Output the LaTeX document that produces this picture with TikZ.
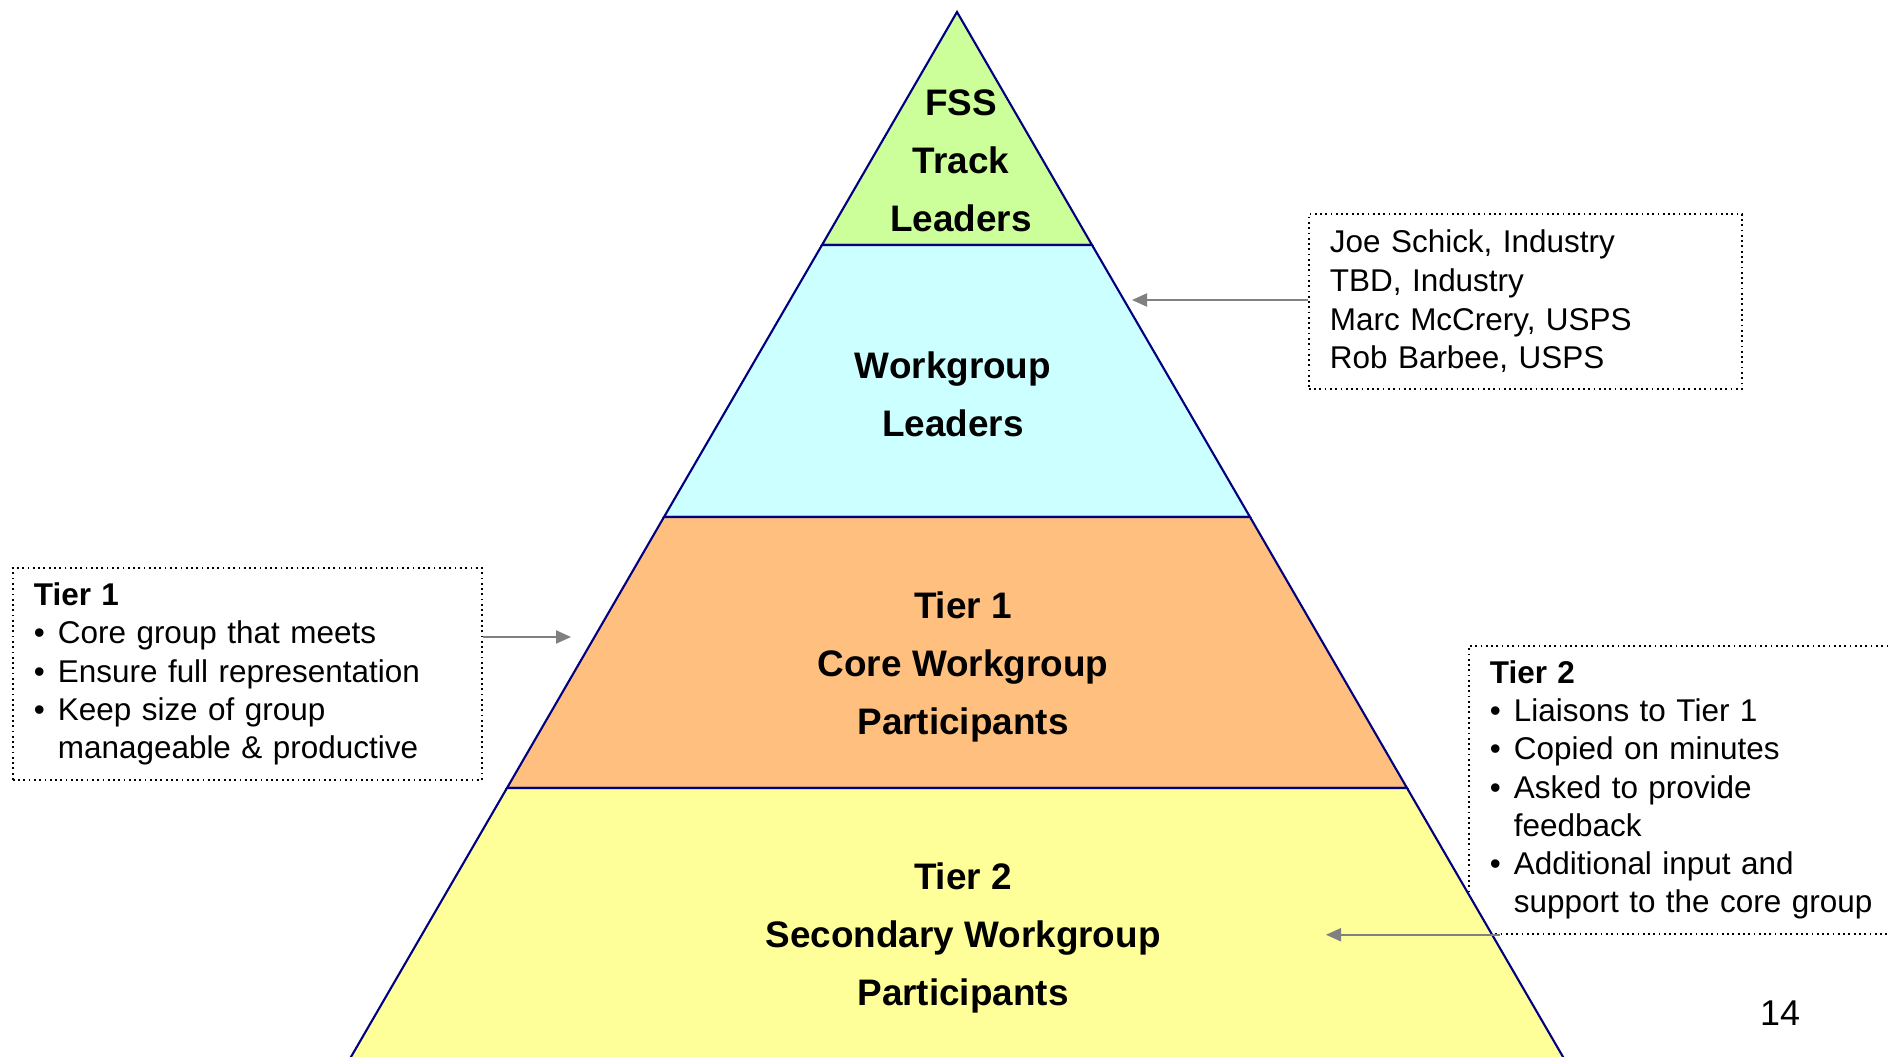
\documentclass[tikz,border=0pt]{standalone}
\usepackage{fontspec}
\setmainfont{Liberation Sans}
\usepackage{xcolor}
\usetikzlibrary{arrows.meta}
\definecolor{tipgreen}{HTML}{CCFF99}
\definecolor{leadcyan}{HTML}{CCFFFF}
\definecolor{coreorange}{HTML}{FFBF7F}
\definecolor{secyellow}{HTML}{FFFF99}
\definecolor{pyrnavy}{HTML}{000080}
\definecolor{pointgray}{HTML}{808080}
\tikzset{band/.style={draw=pyrnavy, line width=0.6pt},
 lbl/.style={font=\bfseries\fontsize{10.5}{16.5}\selectfont, align=center},
 notebox/.style={draw, densely dotted, line width=0.5pt, anchor=north west,
   inner xsep=0.21cm, inner ysep=0.04cm, align=left,
   font=\fontsize{8.95}{10.9}\selectfont},
 pointer/.style={draw=pointgray, line width=0.6pt,
   -{Triangle[length=0.15cm,width=0.13cm]}},
 }
\newcommand{\bitem}[1]{\par\makebox[0.24cm][l]{\textbullet}#1}
\newcommand{\bcont}[1]{\par\hskip0.24cm #1}

\begin{document}
\begin{tikzpicture}[y=-1cm]
        \useasboundingbox (0,0) rectangle (18.9,10.57);

        \node[notebox, text width=3.91cm, minimum height=1.75cm,
          font=\fontsize{8.95}{11}\selectfont] (namesbox) at (13.08,2.13)
          {Joe Schick, Industry\\TBD, Industry\\Marc McCrery, USPS\\Rob Barbee, USPS};
        \node[notebox, text width=4.27cm, minimum height=2.12cm] (tieronebox) at (0.12,5.67)
          {{\bfseries Tier 1}\bitem{Core group that meets}\bitem{Ensure full representation}%
           \bitem{Keep size of group}\bcont{manageable \& productive}};
        \node[notebox, text width=4.27cm, minimum height=2.88cm] (tiertwobox) at (14.68,6.45)
          {{\bfseries Tier 2}\bitem{Liaisons to Tier 1}\bitem{Copied on minutes}%
           \bitem{Asked to provide}\bcont{feedback}%
           \bitem{Additional input and}\bcont{support to the core group}};

        \draw[band, fill=tipgreen] (9.57,0.12) -- (10.92,2.45) -- (8.22,2.45) -- cycle;
        \draw[band, fill=leadcyan] (8.22,2.45) -- (10.92,2.45) -- (12.50,5.17) -- (6.64,5.17) -- cycle;
        \draw[band, fill=coreorange] (6.64,5.17) -- (12.50,5.17) -- (14.07,7.88) -- (5.07,7.88) -- cycle;
        \draw[band, fill=secyellow] (5.07,7.88) -- (14.07,7.88) -- (15.88,11.0) -- (3.26,11.0) -- cycle;

        \node[lbl] (fsslbl) at (9.61,1.61) {FSS\\Track\\Leaders};
        \node[lbl] (leadlbl) at (9.53,3.94) {Workgroup\\Leaders};
        \node[lbl] (corelbl) at (9.63,6.67) {Tier 1\\Core Workgroup\\Participants};
        \node[lbl] (seclbl) at (9.63,9.38) {Tier 2\\Secondary Workgroup\\Participants};

        \coordinate (namestip) at (11.32,3.00);
        \coordinate (coretip) at (5.71,6.37);
        \coordinate (sectip) at (13.26,9.33);
        \draw[pointer] (namesbox.west |- namestip) -- (namestip);
        \draw[pointer] (tieronebox.east |- coretip) -- (coretip);
        \draw[pointer] ([xshift=0.32cm]tiertwobox.south west) -- (tiertwobox.south -| sectip);

        \node (pagenum) at (17.80,10.13) {\fontsize{10.2}{12}\selectfont 14};
    \end{tikzpicture}
\end{document}
